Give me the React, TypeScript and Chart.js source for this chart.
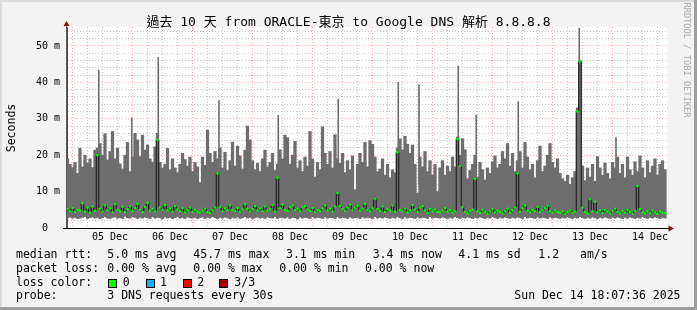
import React, { useEffect, useRef } from "react";
import { Chart, registerables } from "chart.js";

Chart.register(...registerables);

// ---- data (hours counted from 05 Dec 00:00, one sample per hour) ----
const START_HOUR = -5;

const dayLabels = ["05 Dec", "06 Dec", "07 Dec", "08 Dec", "09 Dec", "10 Dec", "11 Dec", "12 Dec", "13 Dec", "14 Dec"];
const yTickLabels = ["0  ", "10 m", "20 m", "30 m", "40 m", "50 m"];

// top of the smoke (ms)
const smokeHigh = [
  19, 17.5, 16.6, 18, 15,
  21.9, 16.8, 20, 17.8, 19, 16.6, 21.4, 22, 23.2, 20, 25.9, 18.7, 21, 26.5, 19, 21.9, 17.6, 16.2, 20, 23.5, 15.5, 19.5, 26, 24.2,
  19.6, 25.5, 21.4, 22.8, 19, 18.1, 22.3, 26, 18, 16.5, 17.5, 21.9, 16, 19, 16.5, 15.2, 17.5, 20.5, 18.8, 17, 19.5, 15.5, 18, 16.8,
  12.5, 19.5, 17.2, 26.9, 20.5, 18, 21, 19, 22, 16.5, 20.8, 15.8, 18.5, 23.6, 17, 22.5, 19.8, 16.2, 21.4, 28, 24.2, 18.5, 16, 17.8,
  15.5, 19, 21.4, 16.8, 18, 20.5, 15.8, 17.5, 21.5, 19, 25.5, 24.8, 17.5, 20, 23.8, 16.5, 18.5, 15.5, 19.5, 17, 26.5, 19, 14, 18,
  16, 27.8, 20.5, 17.5, 21, 16.5, 25.6, 19, 17.8, 20.5, 15.2, 18.5, 16, 19.8, 10.5, 17.5, 20.5, 18, 23.5, 16.8, 24, 23, 19.5, 15.5,
  16.2, 19, 14.5, 17.5, 13.8, 16, 15.2, 22, 24.5, 21.5, 25.2, 23, 20.5, 22.8, 17.5, 9.5, 19.5, 16.8, 21, 15.5, 18.5, 14.5, 17.5, 10,
  16.5, 18.5, 14.5, 17, 15.5, 19.5, 16.8, 25, 20, 24.5, 21.5, 13.5, 15.8, 17.5, 20, 14, 18, 16, 13.2, 16.5, 15, 18.2, 19.8, 16.5,
  17.5, 21, 19, 23.2, 17, 20.5, 15.5, 18.5, 21, 16.5, 23.5, 19.5, 16, 17.5, 13.8, 18.5, 22.5, 15.5, 17, 20, 23.2, 18, 16.5, 19,
  15, 13.5, 12.8, 14.5, 12, 13.8, 15.5, 33, 46, 17, 13, 16.5, 14, 17.5, 12.8, 19.6, 16.5, 14.5, 17.8, 15, 13.5, 18, 16.5, 19.5,
  15, 17.5, 13.8, 19.5, 16, 14.5, 18.2, 15.5, 19.8, 16.5, 13.8, 18.5, 15.2, 17, 19, 14.5, 17.5, 18.5, 16,
];

// bottom of the smoke (ms)
const smokeLow = [
  2.8, 3.0, 2.7, 2.9, 2.6,
  2.7, 2.9, 3.1, 2.6, 2.8, 3.0, 2.7, 2.9, 2.5, 2.8, 3.1, 2.7, 2.6, 2.9, 3.0, 2.7, 2.8, 2.6, 3.2, 2.8, 2.7, 3.0, 2.9, 2.6,
  2.9, 2.7, 3.0, 2.8, 2.6, 3.1, 2.7, 2.9, 2.8, 2.5, 3.0, 2.7, 2.9, 2.6, 2.8, 3.1, 2.7, 2.9, 2.6, 3.0, 2.8, 2.7, 2.9, 2.6,
  2.8, 3.0, 2.6, 2.9, 2.7, 3.1, 2.8, 2.6, 2.9, 2.7, 3.0, 2.8, 2.5, 2.9, 2.7, 3.0, 2.6, 2.8, 3.1, 2.7, 2.9, 2.6, 2.8, 3.0,
  2.7, 2.9, 2.6, 3.0, 2.8, 2.7, 3.1, 2.6, 2.9, 2.8, 2.7, 3.0, 2.6, 2.9, 2.8, 2.5, 3.0, 2.7, 2.9, 2.8, 2.6, 3.1, 2.7, 2.9,
  2.8, 2.6, 3.0, 2.7, 2.9, 2.8, 2.6, 3.1, 2.7, 2.9, 2.8, 2.6, 3.0, 2.7, 2.8, 2.9, 2.6, 3.0, 2.7, 2.9, 2.8, 2.6, 3.1, 2.7,
  2.9, 2.7, 3.0, 2.8, 2.6, 2.9, 2.7, 3.1, 2.8, 2.6, 3.0, 2.7, 2.9, 2.8, 2.6, 3.0, 2.7, 2.9, 2.8, 2.6, 3.1, 2.7, 2.9, 2.8,
  2.7, 3.0, 2.8, 2.6, 2.9, 2.7, 3.1, 2.8, 2.6, 2.9, 2.7, 3.0, 2.8, 2.6, 2.9, 2.7, 3.0, 2.8, 2.6, 2.9, 2.7, 3.1, 2.8, 2.6,
  2.9, 2.7, 3.0, 2.8, 2.6, 2.9, 2.7, 3.0, 2.8, 2.6, 3.1, 2.7, 2.9, 2.8, 2.6, 3.0, 2.7, 2.9, 2.8, 2.6, 3.0, 2.7, 2.9, 2.8,
  2.6, 2.9, 2.7, 3.0, 2.8, 2.6, 2.9, 2.7, 3.1, 2.8, 2.6, 2.9, 2.7, 3.0, 2.8, 2.6, 2.9, 2.7, 3.0, 2.8, 2.6, 2.9, 2.7, 3.0,
  2.8, 2.6, 2.9, 2.7, 3.0, 2.8, 2.6, 2.9, 2.7, 3.1, 2.8, 2.6, 2.9, 2.7, 3.0, 2.8, 2.6, 2.9, 2.7,
];

// median rtt (ms)
const medianRtt = [
  5.2, 4.6, 5.5, 4.4, 5.0,
  4.8, 6.8, 4.5, 5.6, 4.2, 5.9, 4.7, 20.0, 5.3, 4.5, 6.2, 4.9, 5.4, 4.3, 6.5, 5.0, 4.6, 5.8, 4.4, 5.2, 6.0, 4.7, 5.5, 6.6,
  5.0, 4.4, 5.8, 6.9, 4.8, 5.3, 4.6, 24.2, 5.7, 5.0, 6.3, 4.9, 5.4, 4.5, 6.0, 5.1, 4.6, 5.5, 4.3, 4.9, 5.6, 4.4, 5.0, 4.5,
  4.2, 4.8, 5.3, 4.4, 4.1, 4.9, 5.6, 15.0, 5.8, 4.6, 5.4, 4.9, 6.2, 5.0, 4.7, 5.5, 4.5, 5.1, 6.5, 5.3, 4.6, 5.2, 6.0, 4.8,
  5.4, 4.6, 5.9, 4.8, 5.2, 6.3, 4.5, 13.8, 5.5, 6.4, 5.0, 4.7, 5.8, 6.2, 4.9, 5.3, 4.6, 5.7, 6.0, 5.1, 4.7, 5.5, 4.4, 5.0,
  4.6, 5.4, 6.2, 4.8, 5.3, 4.5, 5.9, 9.6, 6.0, 5.2, 4.7, 5.6, 6.4, 4.9, 5.5, 6.1, 4.8, 5.3, 6.6, 5.0, 4.6, 5.4, 8.0, 5.2,
  4.7, 5.9, 4.4, 5.2, 4.8, 6.2, 4.5, 20.8, 5.0, 4.6, 5.3, 4.3, 4.9, 6.3, 5.1, 4.4, 5.6, 6.0, 4.8, 4.2, 5.2, 4.6, 5.0, 4.4,
  4.3, 4.8, 5.5, 4.5, 4.9, 4.2, 4.6, 24.4, 17.0, 5.8, 4.4, 4.0, 4.7, 5.1, 13.5, 4.6, 4.2, 5.0, 4.4, 3.9, 4.6, 5.2, 4.3, 4.8,
  4.4, 4.0, 4.7, 5.3, 4.2, 4.9, 5.6, 15.0, 4.5, 5.4, 6.2, 4.7, 4.3, 5.0, 4.6, 5.8, 4.4, 4.9, 5.5, 6.1, 4.6, 4.2, 4.8, 4.4,
  4.2, 4.6, 3.9, 4.4, 4.8, 4.1, 4.5, 32.0, 45.7, 5.6, 4.4, 4.0, 7.9, 4.6, 7.2, 4.3, 4.8, 4.1, 5.0, 4.5, 4.0, 4.7, 5.3, 4.4,
  4.0, 4.6, 4.2, 5.0, 4.4, 3.9, 4.7, 11.5, 5.2, 4.3, 4.0, 4.6, 4.1, 4.8, 4.3, 3.9, 4.5, 4.2, 4.1,
];

// single tall smoke lines (hour, bottom, top in ms)
const spikeHours = [7.5, 20.7, 31.3, 55.6, 79.3, 103.3, 127.3, 135.6, 151.3, 158.5, 175.3, 199.7, 214.4];
const spikeBases = [14, 15, 13, 14, 15, 14, 13, 12, 14, 13, 14, 12, 13];
const spikeTops = [43.4, 30.2, 46.9, 35.0, 30.9, 35.4, 40.0, 39.3, 44.5, 31.0, 34.7, 54.9, 24.8];

// legend texts
const titleText = "過去 10 天 from ORACLE-東京 to Google DNS 解析 8.8.8.8";
const rttItems = ["5.0 ms avg", "45.7 ms max", "3.1 ms min", "3.4 ms now", "4.1 ms sd", "1.2", "am/s"];
const lossItems = ["0.00 % avg", "0.00 % max", "0.00 % min", "0.00 % now"];
const lossLabels = ["0", "1", "2", "3/3"];
const lossColors = ["#00ff00", "#00b4ff", "#ff0000", "#a00000"];
const probeText = "3 DNS requests every 30s";
const stampText = "Sun Dec 14 18:07:36 2025";

// ---- layout ----
const W = 697;
const H = 310;
const MONO = "'DejaVu Sans Mono', 'Noto Sans CJK TC', monospace";
const rttX = [107.3, 193.3, 286, 372.7, 458.3, 538.3, 580];
const lossX = [107.3, 193.3, 279.3, 365];
const boxX = [108.3, 145.7, 182.7, 219.3];
const boxLabelX = [122.7, 160, 197.3, 234.3];
const rowTop = [247.2, 260.5, 274.9, 288.2];

const SMOKE = "#6e6e6e";
const RED_GRID = "rgba(255,0,0,0.33)";
const GRAY_GRID = "rgba(140,140,140,0.5)";

const framePlugin = {
  id: "frame",
  beforeDraw(chart: any) {
    const { ctx, chartArea } = chart;
    const { left, top, right, bottom } = chartArea;
    ctx.save();
    ctx.fillStyle = "#f3f3f3";
    ctx.fillRect(0, 0, chart.width, chart.height);
    ctx.fillStyle = "#dcdcdc";
    ctx.fillRect(0, 0, chart.width, 2);
    ctx.fillRect(0, 0, 2, chart.height);
    ctx.fillStyle = "#9e9e9e";
    ctx.fillRect(0, chart.height - 3, chart.width, 3);
    ctx.fillRect(chart.width - 3, 0, 3, chart.height);
    ctx.fillStyle = "#ffffff";
    ctx.fillRect(left, top, right - left, bottom - top);
    ctx.restore();
  },
  afterDraw(chart: any) {
    const { ctx, chartArea } = chart;
    const { left, top, right, bottom } = chartArea;
    const ax = Math.round(left) - 0.5;
    const ay = Math.round(bottom) + 0.5;
    ctx.save();
    ctx.lineWidth = 1;
    ctx.strokeStyle = "#555";
    ctx.beginPath();
    ctx.moveTo(ax, bottom + 1);
    ctx.lineTo(ax, top - 5);
    ctx.stroke();
    ctx.strokeStyle = "#000";
    ctx.beginPath();
    ctx.moveTo(left - 4, ay);
    ctx.lineTo(right + 3, ay);
    ctx.stroke();
    ctx.fillStyle = "#8c1111";
    ctx.beginPath();
    ctx.moveTo(ax, top - 6);
    ctx.lineTo(ax - 3, top - 1);
    ctx.lineTo(ax + 3, top - 1);
    ctx.closePath();
    ctx.fill();
    ctx.beginPath();
    ctx.moveTo(right + 7, ay);
    ctx.lineTo(right + 1.5, ay - 3);
    ctx.lineTo(right + 1.5, ay + 3);
    ctx.closePath();
    ctx.fill();
    ctx.restore();
  },
};

export default function App() {
  const ref = useRef<HTMLCanvasElement>(null);

  useEffect(() => {
    const canvas = ref.current;
    if (!canvas) return;
    const smoke = smokeHigh.map((h, i) => ({ x: START_HOUR + i, y: [smokeLow[i], h] }));
    const spikes = spikeHours.map((t, i) => ({ x: t, y: [spikeBases[i], spikeTops[i]] }));
    const median = medianRtt.map((m, i) => ({ x: START_HOUR + i, y: m }));

    const xGrid: number[] = [];
    for (let h = 0; h <= 234; h += 6) xGrid.push(h);
    const yGrid: number[] = [];
    for (let v = 0; v <= 54; v += 2) yGrid.push(v);

    const tickFont = { family: "'DejaVu Sans Mono', monospace", size: 10 };

    const chart = new Chart(canvas, {
      type: "bar",
      data: {
        datasets: [
          {
            type: "line",
            data: median as any,
            borderColor: "#111111",
            borderWidth: 1,
            stepped: "middle",
            pointStyle: "line",
            pointRadius: 1.3,
            pointBorderColor: "#00ff00",
            pointBackgroundColor: "#00ff00",
            pointBorderWidth: 2,
            order: 0,
          } as any,
          {
            type: "bar",
            data: spikes as any,
            backgroundColor: SMOKE,
            barThickness: 1,
            grouped: false,
            order: 1,
          } as any,
          {
            type: "bar",
            data: smoke as any,
            backgroundColor: SMOKE,
            barThickness: 2.6,
            grouped: false,
            order: 2,
          } as any,
        ],
      },
      options: {
        animation: false,
        responsive: false,
        devicePixelRatio: 1,
        events: [],
        layout: { padding: { top: 27, left: 0, right: W - 667, bottom: 62 } },
        plugins: { legend: { display: false }, tooltip: { enabled: false }, title: { display: false } },
        scales: {
          x: {
            type: "linear",
            min: -5.2,
            max: 234.8,
            offset: false,
            afterFit(s: any) {
              s.height = 20;
            },
            afterBuildTicks(s: any) {
              s.ticks = xGrid.map((v) => ({ value: v }));
            },
            ticks: {
              autoSkip: false,
              maxRotation: 0,
              padding: 3,
              color: "#000",
              font: tickFont,
              callback: (v: any) => (v % 24 === 12 ? dayLabels[(v - 12) / 24] : ""),
            },
            grid: {
              drawTicks: false,
              color: (c: any) => (c.tick && c.tick.value % 24 === 0 ? RED_GRID : GRAY_GRID),
            },
            border: { display: true, color: "#000", width: 1, dash: [1, 2] },
          },
          y: {
            min: 0,
            max: 55.2,
            afterFit(s: any) {
              s.width = 67;
            },
            afterBuildTicks(s: any) {
              s.ticks = yGrid.map((v) => ({ value: v }));
            },
            ticks: {
              autoSkip: false,
              padding: 7,
              color: "#000",
              font: tickFont,
              callback: (v: any) => (v % 10 === 0 ? yTickLabels[v / 10] : ""),
            },
            grid: {
              drawTicks: false,
              color: (c: any) =>
                !c.tick || c.tick.value === 0 ? "rgba(0,0,0,0)" : c.tick.value % 10 === 0 ? RED_GRID : GRAY_GRID,
            },
            border: { display: true, color: "#555", width: 1, dash: [1, 2] },
          },
        },
      } as any,
      plugins: [framePlugin],
    });
    return () => chart.destroy();
  }, []);

  const textBase: React.CSSProperties = {
    position: "absolute",
    fontFamily: MONO,
    fontSize: "11.5px",
    lineHeight: "14px",
    whiteSpace: "pre",
    color: "#000",
  };

  return (
    <div style={{ position: "absolute", left: 0, top: 0, width: W, height: H, overflow: "hidden" }}>
      <canvas ref={ref} width={W} height={H} style={{ position: "absolute", left: 0, top: 0, width: W, height: H }} />
      <div
        style={{
          position: "absolute",
          left: 0,
          top: 13.5,
          width: W,
          textAlign: "center",
          fontFamily: MONO,
          fontSize: "13px",
          lineHeight: "16px",
          whiteSpace: "pre",
          color: "#000",
        }}
      >
        {titleText}
      </div>
      <div
        style={{
          ...textBase,
          left: 11 - 30,
          top: 127.5 - 7,
          width: 60,
          height: 14,
          textAlign: "center",
          transform: "rotate(-90deg)",
        }}
      >
        Seconds
      </div>
      <div
        style={{
          position: "absolute",
          left: 687 - 60,
          top: 60 - 5,
          width: 120,
          height: 10,
          lineHeight: "10px",
          fontSize: "8.7px",
          fontFamily: MONO,
          textAlign: "center",
          whiteSpace: "pre",
          color: "#a8a8a8",
          transform: "rotate(90deg)",
        }}
      >
        RRDTOOL / TOBI OETIKER
      </div>

      <div style={{ ...textBase, left: 16, top: rowTop[0] }}>median rtt:</div>
      {rttItems.map((t, i) => (
        <div key={"r" + i} style={{ ...textBase, left: rttX[i], top: rowTop[0] }}>
          {t}
        </div>
      ))}
      <div style={{ ...textBase, left: 16, top: rowTop[1] }}>packet loss:</div>
      {lossItems.map((t, i) => (
        <div key={"l" + i} style={{ ...textBase, left: lossX[i], top: rowTop[1] }}>
          {t}
        </div>
      ))}
      <div style={{ ...textBase, left: 16, top: rowTop[2] }}>loss color:</div>
      {lossLabels.map((t, i) => (
        <React.Fragment key={"c" + i}>
          <div
            style={{
              position: "absolute",
              left: boxX[i],
              top: 278.5,
              width: 7,
              height: 7,
              background: lossColors[i],
              border: "1px solid #000",
            }}
          />
          <div style={{ ...textBase, left: boxLabelX[i], top: rowTop[2] }}>{t}</div>
        </React.Fragment>
      ))}
      <div style={{ ...textBase, left: 16, top: rowTop[3] }}>probe:</div>
      <div style={{ ...textBase, left: 107.3, top: rowTop[3] }}>{probeText}</div>
      <div style={{ ...textBase, right: W - 680.5, top: rowTop[3] }}>{stampText}</div>
    </div>
  );
}
